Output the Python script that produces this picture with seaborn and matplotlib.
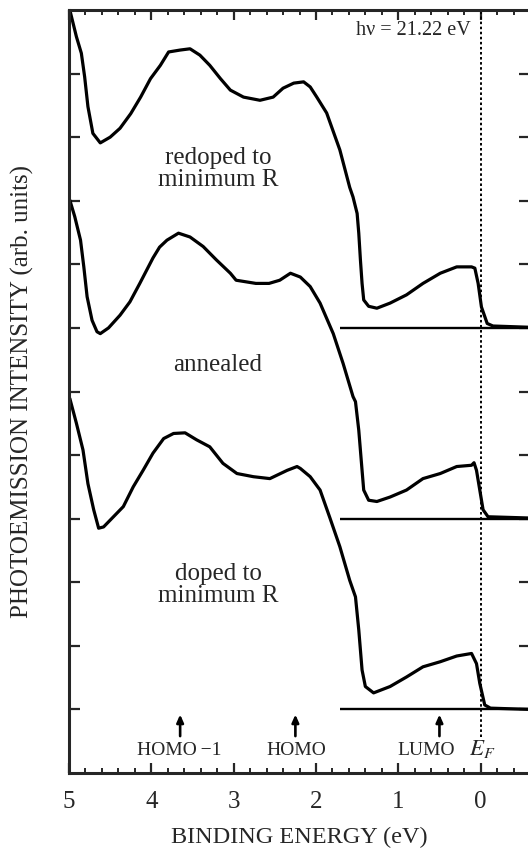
import matplotlib
matplotlib.use("Agg")
import matplotlib.pyplot as plt
import seaborn as sns
import pandas as pd

# Binding energy (eV) and photoemission intensity (arb. units, offset stacks)
redoped_E = [5.00, 4.99, 4.91, 4.85, 4.81, 4.77, 4.71, 4.62, 4.50, 4.38, 4.25, 4.13,
             4.01, 3.89, 3.79, 3.65, 3.53, 3.41, 3.29, 3.16, 3.04, 2.88, 2.68, 2.52,
             2.40, 2.27, 2.15, 2.07, 1.99, 1.87, 1.71, 1.59, 1.55, 1.50, 1.48, 1.46,
             1.44, 1.42, 1.36, 1.26, 1.10, 0.90, 0.70, 0.49, 0.29, 0.11, 0.07, 0.03,
             -0.01, -0.08, -0.15, -0.60]
redoped_I = [12.1, 12.0, 11.58, 11.32, 10.95, 10.48, 10.06, 9.91, 10.00, 10.14, 10.37, 10.63,
             10.92, 11.13, 11.34, 11.37, 11.39, 11.29, 11.13, 10.92, 10.74, 10.63, 10.58, 10.63,
             10.77, 10.85, 10.87, 10.79, 10.63, 10.38, 9.80, 9.21, 9.06, 8.80, 8.49, 8.07,
             7.70, 7.44, 7.34, 7.31, 7.39, 7.52, 7.70, 7.86, 7.96, 7.96, 7.94, 7.70,
             7.33, 7.07, 7.03, 7.01]

annealed_E = [4.99, 4.93, 4.86, 4.82, 4.78, 4.72, 4.66, 4.62, 4.52, 4.38, 4.26, 4.14,
              4.06, 3.98, 3.90, 3.81, 3.67, 3.53, 3.37, 3.21, 3.04, 2.97, 2.73, 2.57,
              2.44, 2.31, 2.19, 2.07, 1.95, 1.79, 1.67, 1.55, 1.52, 1.48, 1.44, 1.42,
              1.36, 1.26, 1.10, 0.90, 0.70, 0.49, 0.29, 0.11, 0.08, 0.05, 0.01, -0.03,
              -0.09, -0.60]
annealed_I = [9.01, 8.75, 8.38, 7.96, 7.49, 7.12, 6.94, 6.91, 7.00, 7.20, 7.41, 7.70,
              7.90, 8.10, 8.27, 8.38, 8.49, 8.43, 8.28, 8.07, 7.86, 7.75, 7.70, 7.70,
              7.75, 7.86, 7.80, 7.65, 7.39, 6.91, 6.44, 5.92, 5.84, 5.39, 4.76, 4.45,
              4.29, 4.27, 4.34, 4.45, 4.63, 4.71, 4.82, 4.84, 4.88, 4.76, 4.45, 4.14,
              4.03, 4.01]

doped_E = [4.99, 4.91, 4.83, 4.77, 4.70, 4.64, 4.58, 4.46, 4.34, 4.22, 4.10, 3.98,
           3.85, 3.73, 3.59, 3.45, 3.29, 3.13, 2.96, 2.76, 2.56, 2.35, 2.23, 2.19,
           2.07, 1.95, 1.83, 1.71, 1.59, 1.52, 1.48, 1.44, 1.40, 1.30, 1.10, 0.90,
           0.70, 0.49, 0.29, 0.11, 0.05, 0.01, -0.05, -0.12, -0.60]
doped_I = [5.89, 5.50, 5.08, 4.55, 4.14, 3.85, 3.87, 4.03, 4.19, 4.50, 4.76, 5.03,
           5.26, 5.34, 5.35, 5.24, 5.13, 4.87, 4.71, 4.66, 4.63, 4.76, 4.82, 4.79,
           4.66, 4.45, 4.01, 3.56, 3.03, 2.77, 2.25, 1.62, 1.36, 1.26, 1.36, 1.51,
           1.67, 1.75, 1.84, 1.88, 1.72, 1.41, 1.07, 1.02, 1.00]

baselines = [7, 4, 1]
baseline_start = 1.71

sample_labels = ["redoped to\nminimum R", "annealed", "doped to\nminimum R"]
sample_label_pos = [(3.19, 9.50), (3.19, 6.42), (3.19, 2.96)]

orbital_names = ["HOMO\u2009\u22121", "HOMO", "LUMO"]
orbital_arrow_E = [3.65, 2.25, 0.50]
orbital_label_E = [3.66, 2.24, 0.66]

photon_text = "h\u03bd = 21.22 eV"

sns.set_style("ticks")
plt.rcParams["font.family"] = ["Liberation Serif", "DejaVu Serif"]
plt.rcParams["mathtext.fontset"] = "stix"

fig = plt.figure(figsize=(5.28, 8.5), dpi=100)
ax = fig.add_axes([69 / 528, 77 / 850, 461 / 528, 763 / 850])

frames = []
for name, e, i in [("redoped", redoped_E, redoped_I),
                   ("annealed", annealed_E, annealed_I),
                   ("doped", doped_E, doped_I)]:
    frames.append(pd.DataFrame({"E": e, "I": i, "sample": name}))
df = pd.concat(frames, ignore_index=True)

sns.lineplot(data=df, x="E", y="I", units="sample", estimator=None, sort=False,
             color="black", linewidth=2.3, ax=ax, legend=False)
for ln in ax.lines:
    ln.set_solid_joinstyle("round")
    ln.set_solid_capstyle("round")

for b in baselines:
    ax.hlines(b, baseline_start, -0.6, color="black", linewidth=1.7)

# Fermi level marker
ax.vlines(0.0, 0.57, 12, color="black", linewidth=1.4, linestyle=(0, (1.3, 1.3)))

for txt, (x, y) in zip(sample_labels, sample_label_pos):
    ax.text(x, y, txt, ha="center", va="center", fontsize=18, linespacing=1.0)

for name, ea, el in zip(orbital_names, orbital_arrow_E, orbital_label_E):
    ax.annotate("", xy=(ea, 0.92), xytext=(ea, 0.58),
                arrowprops=dict(arrowstyle="-|>,head_length=0.45,head_width=0.2",
                                color="black", linewidth=1.9, shrinkA=0, shrinkB=0))
    ax.text(el, 0.283, name, ha="center", va="baseline", fontsize=14)
ax.text(-0.02, 0.283, "$E_F$", ha="center", va="baseline", fontsize=16.5)

ax.text(0.12, 11.60, photon_text, ha="right", va="baseline", fontsize=14.5)

ax.set_xlim(5, -0.6)
ax.set_ylim(0, 12)
ax.set_xticks([5, 4, 3, 2, 1, 0])
ax.set_xticks([5 - 0.2 * k for k in range(28)], minor=True)
ax.set_yticks(range(1, 12))
ax.set_xticklabels(["5", "4", "3", "2", "1", "0"])

ax.tick_params(axis="x", which="major", direction="in", length=7.5, width=1.6,
               top=True, bottom=True, labelsize=18, pad=13)
ax.tick_params(axis="x", which="minor", direction="in", length=3.8, width=1.4,
               top=True, bottom=True)
ax.tick_params(axis="y", which="major", direction="in", length=8, width=1.6,
               left=True, right=True, labelleft=False)
for s in ax.spines.values():
    s.set_linewidth(2.2)

ax.set_xlabel("BINDING ENERGY (eV)", fontsize=17.5)
ax.set_ylabel("PHOTOEMISSION INTENSITY (arb. units)", fontsize=18)
ax.xaxis.set_label_coords(0.5, -0.070)
ax.yaxis.set_label_coords(-0.077, 0.5)

fig.savefig("out.png", dpi=100)
